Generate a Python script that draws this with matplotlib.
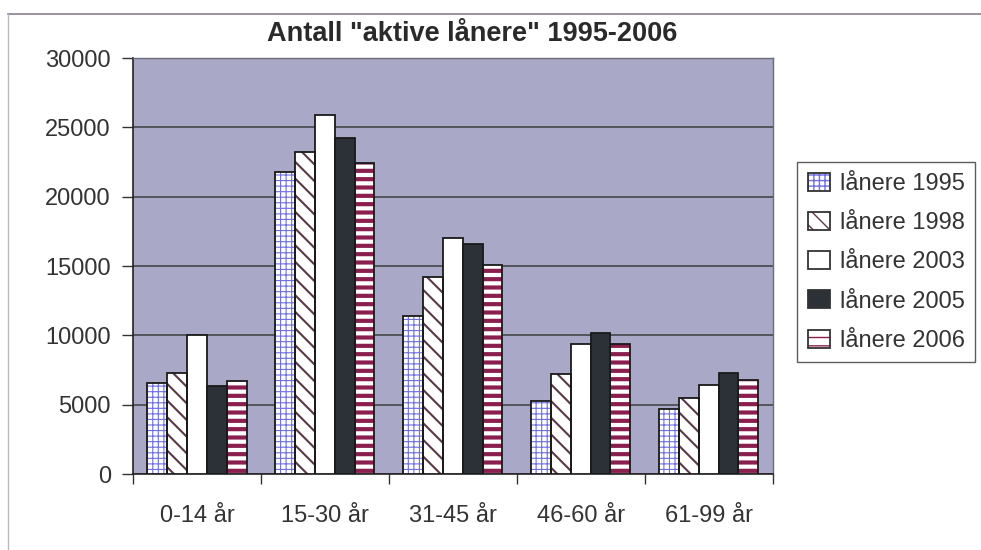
import numpy as np
import matplotlib
matplotlib.use('Agg')
import matplotlib.pyplot as plt
from matplotlib.lines import Line2D

plt.rcParams['font.family'] = ['Liberation Sans', 'DejaVu Sans']

# data
groups = ['0-14 år', '15-30 år', '31-45 år', '46-60 år', '61-99 år']
series = ['lånere 1995', 'lånere 1998', 'lånere 2003', 'lånere 2005', 'lånere 2006']
v1995 = [6600, 21800, 11400, 5300, 4700]
v1998 = [7300, 23200, 14200, 7200, 5500]
v2003 = [10000, 25900, 17000, 9400, 6400]
v2005 = [6350, 24200, 16600, 10200, 7300]
v2006 = [6700, 22400, 15100, 9400, 6800]
yticks = [0, 5000, 10000, 15000, 20000, 25000, 30000]

values = [v1995, v1998, v2003, v2005, v2006]
faces = ['white', 'white', 'white', '#2b3136', 'white']
hatches = ['+++', '\\\\', '', '', '--']
hcolors = ['#6f6fe0', '#5a3848', 'white', '#2b3136', '#8a1f4f']
hwidths = [0.8, 1.5, 1.0, 1.0, 3.0]

fig = plt.figure(figsize=(9.81, 5.5), dpi=100)
ax = fig.add_axes([0.1356, 0.138, 0.652, 0.7565])
ax.set_facecolor('#a9a8c6')

x = np.arange(len(groups))
w = 0.155
handles = []
for i, (vals, fc, h, hc, hw) in enumerate(zip(values, faces, hatches, hcolors, hwidths)):
    pos = x + (i - 2) * w
    bars = ax.bar(pos, vals, w, color=fc, hatch=h, edgecolor=hc, linewidth=0, zorder=3)
    for b in bars:
        if hasattr(b, 'set_hatch_linewidth'):
            b.set_hatch_linewidth(hw)
    ax.bar(pos, vals, w, facecolor='none', edgecolor='#1a1a1a', linewidth=1.3, zorder=4)
    hp = plt.Rectangle((0, 0), 1, 1, facecolor=fc, hatch=h, edgecolor=hc, linewidth=0)
    if hasattr(hp, 'set_hatch_linewidth'):
        hp.set_hatch_linewidth(min(hw, 1.5))
    border = plt.Rectangle((0, 0), 1, 1, facecolor='none', edgecolor='#333333', linewidth=1.3)
    handles.append((hp, border))

ax.set_xlim(-0.5, len(groups) - 0.5)
ax.set_ylim(0, 30000)
ax.set_yticks(yticks)
ax.set_yticklabels([str(t) for t in yticks], fontsize=17, color='#333333')
ax.set_xticks(x)
ax.set_xticklabels(groups, fontsize=17, color='#333333')
ax.set_xticks(np.arange(-0.5, len(groups)), minor=True)
ax.tick_params(axis='x', which='major', length=0, pad=22)
ax.tick_params(axis='x', which='minor', length=7, width=1, color='#333333', direction='out')
ax.tick_params(axis='y', length=8, width=1, color='#333333', direction='out', pad=8)
ax.yaxis.grid(True, color='#3c3f40', linewidth=1.1, zorder=1)
ax.set_axisbelow(True)
for s in ['left', 'bottom']:
    ax.spines[s].set_color('#222222')
    ax.spines[s].set_linewidth(1.2)
for s in ['top', 'right']:
    ax.spines[s].set_color('#6a6a7a')
    ax.spines[s].set_linewidth(1.0)

fig.text(472 / 981, 1 - 34 / 550, 'Antall "aktive lånere" 1995-2006', fontsize=19.5,
         fontweight='bold', color='#2a2a2a', ha='center', va='center')

leg = fig.legend(handles, series, loc='upper left', bbox_to_anchor=(0.8125, 0.7055),
                 fontsize=17, frameon=True, fancybox=False, edgecolor='#333333',
                 handlelength=0.95, handleheight=0.8, handletextpad=0.4,
                 labelspacing=0.72, borderpad=0.45, borderaxespad=0)
leg.get_frame().set_linewidth(1.0)
for t in leg.get_texts():
    t.set_color('#333333')

# thin frame around the chart area
fig.add_artist(Line2D([8 / 981, 1.0], [1 - 14 / 550, 1 - 14 / 550], color='#8a7f90', linewidth=1.2))
fig.add_artist(Line2D([8 / 981, 8 / 981], [0.0, 1 - 14 / 550], color='#bbbbbb', linewidth=1.0))

fig.savefig('out.png', dpi=100)
